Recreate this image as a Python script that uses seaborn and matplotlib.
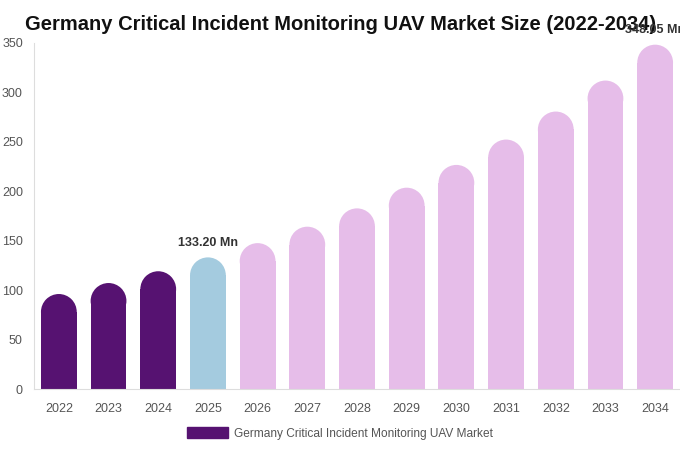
import matplotlib
matplotlib.use("Agg")
import matplotlib.pyplot as plt
import seaborn as sns
import pandas as pd
from matplotlib.patches import Ellipse, Rectangle

years = ["2022", "2023", "2024", "2025", "2026", "2027", "2028",
         "2029", "2030", "2031", "2032", "2033", "2034"]
market_size = [96.2, 107.3, 119.2, 133.20, 147.6, 164.2, 182.7,
               203.6, 226.6, 252.2, 280.5, 311.8, 348.05]
bar_colors = ["#561271"] * 3 + ["#a4cbdf"] + ["#e6bde9"] * 9
labelled = {"2025": "133.20 Mn", "2034": "348.05 Mn"}

df = pd.DataFrame({"Year": years, "Size": market_size})

sns.set_style("white")
plt.rcParams["font.family"] = ["Liberation Sans", "DejaVu Sans"]

fig, ax = plt.subplots(figsize=(6.8, 4.5), dpi=100)
fig.subplots_adjust(left=0.05, right=1.0, top=0.905, bottom=0.135)

sns.barplot(data=df, x="Year", y="Size", hue="Year", palette=bar_colors,
            width=0.72, legend=False, ax=ax, saturation=1)

ax.set_ylim(0, 350)
ax.set_xlim(-0.5, len(years) - 0.5)
ax.set_yticks(range(0, 351, 50))

# convert bar half-width into data units on y so the cap looks round
fig.canvas.draw()
px_per_x = ax.transData.transform((1, 0))[0] - ax.transData.transform((0, 0))[0]
px_per_y = ax.transData.transform((0, 1))[1] - ax.transData.transform((0, 0))[1]

for patch, col in zip(list(ax.patches), bar_colors):
    x0, w, h = patch.get_x(), patch.get_width(), patch.get_height()
    patch.set_visible(False)
    ry = (w / 2) * px_per_x / px_per_y
    ax.add_patch(Rectangle((x0, 0), w, h - ry, color=col, lw=0))
    ax.add_patch(Ellipse((x0 + w / 2, h - ry), w, 2 * ry, color=col, lw=0))

for i, yr in enumerate(years):
    if yr in labelled:
        ax.annotate(labelled[yr], (i, market_size[i]), xytext=(0, 6),
                    textcoords="offset points", ha="center", va="bottom",
                    fontsize=9, fontweight="bold", color="#333333",
                    annotation_clip=False, zorder=5)

ax.set_title("Germany Critical Incident Monitoring UAV Market Size (2022-2034)",
             fontsize=14.5, fontweight="bold", color="#111111", pad=9, x=0.474)
ax.set_xlabel("")
ax.set_ylabel("")
ax.tick_params(axis="both", length=0, colors="#555555", labelsize=9)
ax.tick_params(axis="x", pad=10)
ax.tick_params(axis="y", pad=8)
for s in ["top", "right"]:
    ax.spines[s].set_visible(False)
for s in ["left", "bottom"]:
    ax.spines[s].set_color("#dddddd")
    ax.spines[s].set_linewidth(0.8)

handle = Rectangle((0, 0), 1, 1, color="#561271")
fig.legend([handle], ["Germany Critical Incident Monitoring UAV Market"],
           loc="center", bbox_to_anchor=(0.5, 0.037), frameon=False,
           fontsize=8.6, labelcolor="#555555", handlelength=3.4,
           handleheight=1.0, handletextpad=0.5)

fig.savefig("out.png", dpi=100)
